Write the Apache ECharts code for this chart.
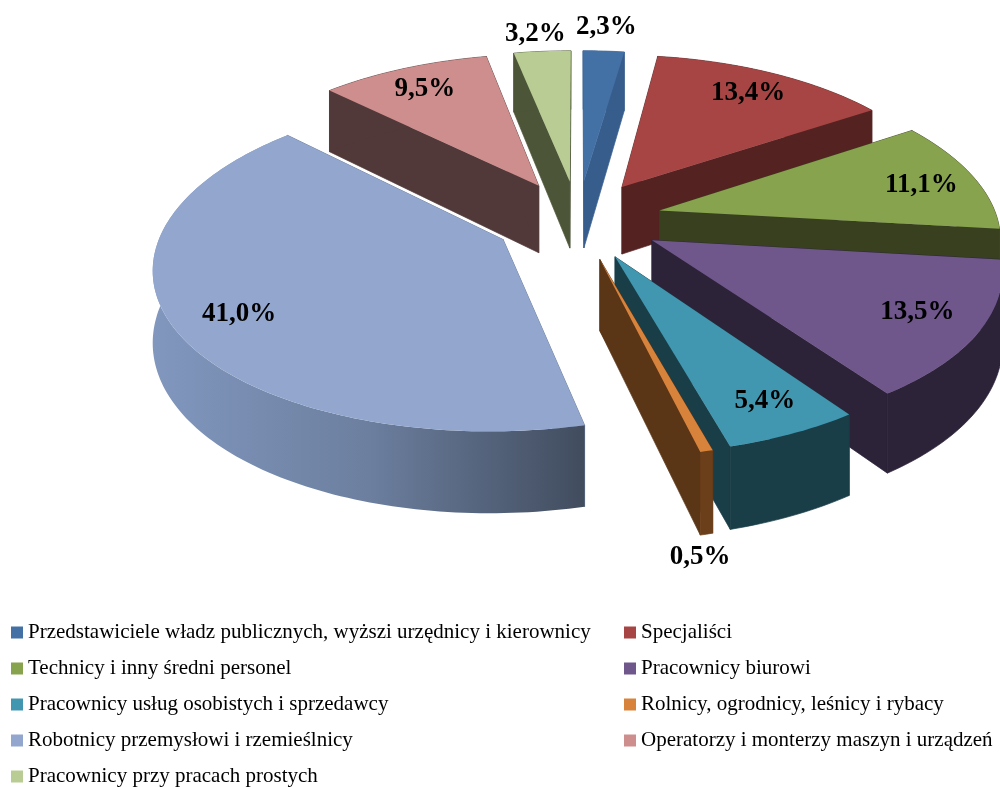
<!DOCTYPE html>
<html>
<head>
<meta charset="utf-8">
<style>html,body{margin:0;padding:0;background:#fff}#c{width:1000px;height:787px}</style>
<script src="https://cdn.jsdelivr.net/npm/echarts@6/dist/echarts.min.js"></script>
</head>
<body>
<div id="c"></div>
<script>
const categories = [
  'Przedstawiciele władz publicznych, wyższi urzędnicy i kierownicy',
  'Specjaliści',
  'Technicy i inny średni personel',
  'Pracownicy biurowi',
  'Pracownicy usług osobistych i sprzedawcy',
  'Rolnicy, ogrodnicy, leśnicy i rybacy',
  'Robotnicy przemysłowi i rzemieślnicy',
  'Operatorzy i monterzy maszyn i urządzeń',
  'Pracownicy przy pracach prostych'
];
const values = [2.3, 13.4, 11.1, 13.5, 5.4, 0.5, 41.0, 9.5, 3.2];
const topColors = ['#4371A6','#A64543','#88A34E','#6F568B','#4097AF','#D8833C','#93A7CE','#CE8E8D','#B8CC93'];
const sideColors = ['#375D8D','#552222','#384020','#2C2339','#1A3E48','#5A3516','#5F7190','#523939','#4C5538'];
// label anchor: radial fraction of the slice and angular shift in degrees
const labelRadius = [1.233, .825, .83, .815, .832, 1.405, .817, .83, 1.173];
const labelShift = [-.2, -.4, .7, -1.5, -1.1, 5.8, -.8, 0, -.5];

const CX = 578, CY = 219.6, RX = 338, A = 158.8, KX = 0.15, KY = 0.14, E = 0.25, H = 69;
const project = (X, Y, z) => {
  const px = 1 / (1 - KX * Y), py = 1 / (1 - KY * Y);
  return [CX + RX * X * px, CY + (A * Y + z * H) * py];
};
const total = values.reduce((a, b) => a + b, 0);
let acc = 0;
const slices = values.map(v => {
  const a0 = acc / total * 2 * Math.PI;
  acc += v;
  const a1 = acc / total * 2 * Math.PI;
  return { a0, a1, mid: (a0 + a1) / 2 };
});
const order = slices.map((s, i) => i).sort((a, b) => (-Math.cos(slices[a].mid)) - (-Math.cos(slices[b].mid)));

function renderSlice(i) {
  const s = slices[i];
  const ax = E * Math.sin(s.mid), ay = -E * Math.cos(s.mid);
  const rim = z => {
    const pts = [];
    const n = Math.max(2, Math.ceil((s.a1 - s.a0) / 0.02));
    for (let k = 0; k <= n; k++) {
      const t = s.a0 + (s.a1 - s.a0) * k / n;
      pts.push(project(ax + Math.sin(t), ay - Math.cos(t), z));
    }
    return pts;
  };
  const rim0 = rim(0), rim1 = rim(1);
  const apex0 = project(ax, ay, 0), apex1 = project(ax, ay, 1);
  const rank = order.indexOf(i) * 10 + 10;
  const face = (points, fill, z2, stroke) => ({ type: 'polygon', z2, shape: { points },
    style: stroke ? { fill, stroke: fill, lineWidth: 0.7 } : { fill } });
  const wallFill = i === 6
    ? { type: 'linear', x: 0, y: 0, x2: 1, y2: 0, colorStops: [
        { offset: 0, color: '#8197BE' }, { offset: 0.5, color: '#6C7F9F' }, { offset: 1, color: '#414C5E' } ] }
    : i === 5 ? '#6B3F1A' : sideColors[i];
  const f = labelRadius[i], t = s.mid + labelShift[i] * Math.PI / 180;
  const lp = project(ax + f * Math.sin(t), ay - f * Math.cos(t), 0);
  return {
    type: 'group',
    children: [
      face([apex0, rim0[0], rim1[0], apex1], sideColors[i], rank, true),
      face([apex0, rim0[rim0.length - 1], rim1[rim1.length - 1], apex1], sideColors[i], rank + 1, true),
      face(rim0.concat(rim1.slice().reverse()), wallFill, rank + 2, i !== 6),
      face([apex0].concat(rim0), topColors[i], rank + 3, false),
      { type: 'text', z2: 1000, style: {
          x: lp[0], y: lp[1] + 2, text: values[i].toFixed(1).replace('.', ',') + '%',
          font: 'bold 27px "Liberation Serif"', fill: '#000', align: 'center', verticalAlign: 'middle' } }
    ]
  };
}

const legendText = { fontFamily: 'Liberation Serif', fontSize: 21, color: '#000' };
const legendBase = { orient: 'vertical', icon: 'rect', itemWidth: 12, itemHeight: 12, itemGap: 15,
  padding: 0, height: 165, selectedMode: false, textStyle: legendText };

const chart = echarts.init(document.getElementById('c'), null, { renderer: 'canvas' });
chart.setOption({
  animation: false,
  backgroundColor: '#fff',
  legend: [
    Object.assign({}, legendBase, { left: 11, top: 622, data: categories.filter((c, i) => i % 2 === 0) }),
    Object.assign({}, legendBase, { left: 624, top: 622, data: categories.filter((c, i) => i % 2 === 1) })
  ],
  series: categories.map((name, i) => ({
    type: 'custom',
    name,
    coordinateSystem: 'none',
    itemStyle: { color: topColors[i] },
    data: [values[i]],
    renderItem: () => renderSlice(i)
  }))
});
</script>
</body>
</html>
